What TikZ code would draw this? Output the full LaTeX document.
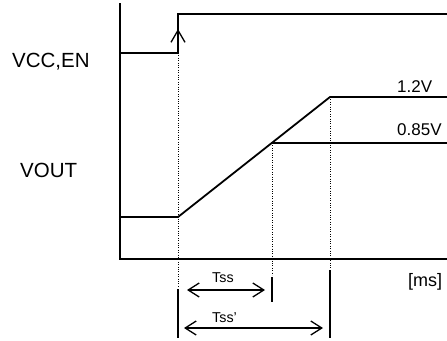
\documentclass[tikz,border=0pt]{standalone}
\usepackage{fontspec}
\setmainfont{Liberation Sans}
\usetikzlibrary{arrows.meta}
\begin{document}
\begin{tikzpicture}[x=1pt,y=-1pt,
  sig/.style={line width=1.8pt},
  axisline/.style={line width=1.8pt},
  guide/.style={line width=1pt, dash pattern=on 1pt off 1.4pt},
  tickline/.style={line width=1.6pt},
  dim/.style={line width=1.3pt, {Straight Barb[length=11pt,width=14pt]}-{Straight Barb[length=11pt,width=14pt]}},
  uparrow/.style={line width=1.3pt, -{Straight Barb[length=12pt,width=14pt]}},
  lbl/.style={anchor=base west, inner sep=0pt},
]
\useasboundingbox (0,0) rectangle (447,340);
% axes
\coordinate (ytop) at (120,3);
\coordinate (orig) at (120,259);
\coordinate (xend) at (447,259);
\draw[axisline] (ytop) -- (orig) -- (xend);
% VCC,EN signal
\coordinate (v0) at (120,53);
\coordinate (v1) at (178,53);
\coordinate (v2) at (178,14);
\coordinate (v3) at (447,14);
\coordinate (vtip) at (178,29);
\draw[sig] (v0) -- (v1) -- (v2) -- (v3);
\draw[uparrow] (v1) -- (vtip);
% VOUT signal
\coordinate (o0) at (120,217);
\coordinate (o1) at (178,217);
\coordinate (o2) at (330,97);
\coordinate (o3) at (447,97);
\coordinate (m0) at (272,143);
\coordinate (m1) at (447,143);
\draw[sig] (o0) -- (o1) -- (o2) -- (o3);
\draw[sig] (m0) -- (m1);
% guides
\coordinate (g1) at (178,287);
\coordinate (g2) at (272,275);
\coordinate (g3) at (330,268);
\draw[guide] (v1) -- (g1);
\draw[guide] (m0) -- (g2);
\draw[guide] (o2) -- (g3);
% ticks
\coordinate (t1a) at (178,289); \coordinate (t1b) at (178,338);
\coordinate (t2a) at (272,277); \coordinate (t2b) at (272,302);
\coordinate (t3a) at (330,270); \coordinate (t3b) at (330,338);
\draw[tickline] (t1a) -- (t1b);
\draw[tickline] (t2a) -- (t2b);
\draw[tickline] (t3a) -- (t3b);
% dimension arrows
\coordinate (a1) at (187,290); \coordinate (a2) at (265,290);
\coordinate (b1) at (184,328); \coordinate (b2) at (323,328);
\draw[dim] (a1) -- (a2);
\draw[dim] (b1) -- (b2);
% labels
\node[lbl, font=\fontsize{20.5}{22}\selectfont] (lvcc) at (12,67) {VCC,EN};
\node[lbl, font=\fontsize{20.5}{22}\selectfont] (lvout) at (20,177) {VOUT};
\node[lbl, font=\fontsize{17}{19}\selectfont] (l12) at (397,92) {1.2V};
\node[lbl, font=\fontsize{17}{19}\selectfont] (l085) at (397,135) {0.85V};
\node[lbl, font=\fontsize{18}{20}\selectfont] (lms) at (408,286) {[ms]};
\node[lbl, font=\fontsize{14.3}{16}\selectfont] (ltss) at (212,282) {Tss};
\node[lbl, font=\fontsize{14.3}{16}\selectfont] (ltss2) at (212,322) {Tss’};
\end{tikzpicture}
\end{document}
